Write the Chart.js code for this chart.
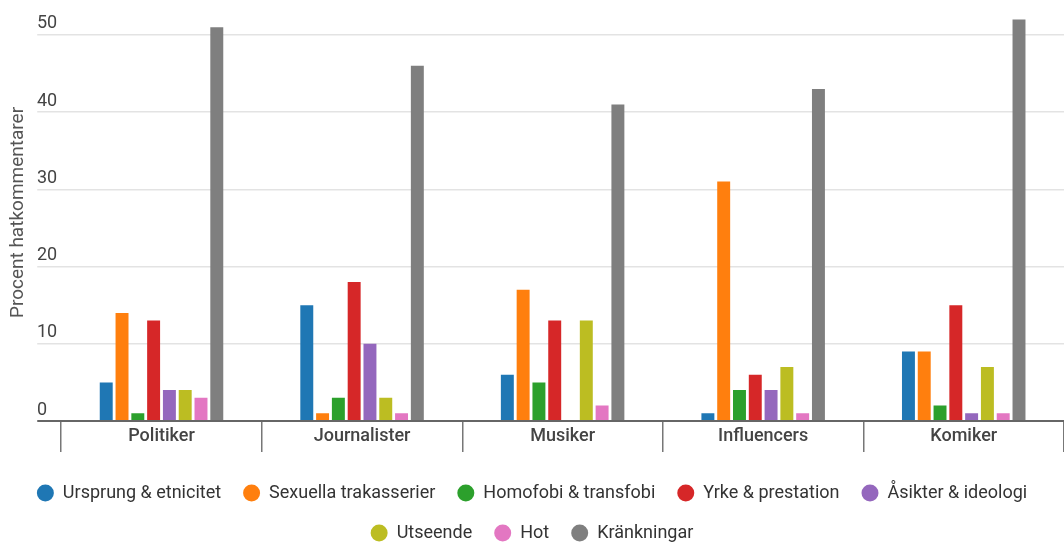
<!DOCTYPE html>
<html>
<head>
<meta charset="utf-8">
<script src="https://cdn.jsdelivr.net/npm/chart.js@4.4.1/dist/chart.umd.min.js"></script>
<style>
  html, body { margin: 0; padding: 0; background: #ffffff; }
  #wrap { width: 1064px; height: 543px; }
</style>
</head>
<body>
<div id="wrap"><canvas id="c" width="1064" height="543"></canvas></div>
<script>
const categories = ['Politiker', 'Journalister', 'Musiker', 'Influencers', 'Komiker'];
const seriesNames = ['Ursprung & etnicitet', 'Sexuella trakasserier', 'Homofobi & transfobi', 'Yrke & prestation', 'Åsikter & ideologi', 'Utseende', 'Hot', 'Kränkningar'];
const ursprung = [5, 15, 6, 1, 9];
const sexuella = [14, 1, 17, 31, 9];
const homofobi = [1, 3, 5, 4, 2];
const yrke = [13, 18, 13, 6, 15];
const asikter = [4, 10, 0, 4, 1];
const utseende = [4, 3, 13, 7, 7];
const hot = [3, 1, 2, 1, 1];
const krankningar = [51, 46, 41, 43, 52];
const yTicks = [0, 10, 20, 30, 40, 50];
const colors = ['#1f77b4', '#ff7f0e', '#2ca02c', '#d62728', '#9467bd', '#bcbd22', '#e377c2', '#7f7f7f'];

const seriesValues = [ursprung, sexuella, homofobi, yrke, asikter, utseende, hot, krankningar];

const datasets = seriesValues.map((vals, i) => ({
  label: seriesNames[i],
  data: vals,
  backgroundColor: colors[i],
  borderWidth: 0,
  categoryPercentage: 0.63,
  barPercentage: 0.82
}));

const chart = new Chart(document.getElementById('c'), {
  type: 'bar',
  data: { labels: categories, datasets },
  options: {
    responsive: false,
    animation: false,
    layout: { padding: { top: 4, right: 0, left: 0, bottom: -9 } },
    plugins: {
      tooltip: { enabled: false },
      legend: {
        position: 'bottom',
        labels: {
          usePointStyle: true,
          pointStyle: 'circle',
          boxWidth: 12,
          boxHeight: 12,
          pointStyleWidth: 17,
          padding: 22,
          color: '#333333',
          font: { family: 'Roboto', size: 18 }
        }
      }
    },
    scales: {
      x: {
        offset: true,
        border: { display: false },
        grid: {
          offset: true,
          drawOnChartArea: false,
          drawTicks: true,
          tickLength: 31,
          color: '#777777',
          lineWidth: 1.5
        },
        ticks: {
          padding: -26,
          color: '#444444',
          font: { family: 'Roboto', size: 18, weight: '500' }
        },
        title: {
          display: true,
          text: ' ',
          font: { family: 'Roboto', size: 10 },
          padding: { top: 0, bottom: 28.4 }
        }
      },
      y: {
        min: 0,
        max: 54,
        border: { display: false },
        afterBuildTicks: (scale) => {
          scale.ticks = yTicks.map(v => ({ value: v }));
        },
        grid: {
          drawTicks: true,
          tickLength: 24,
          color: (ctx) => ctx.tick && ctx.tick.value === 0 ? '#666666' : '#e3e3e3',
          tickColor: (ctx) => ctx.tick && ctx.tick.value === 0 ? '#666666' : '#e3e3e3',
          lineWidth: (ctx) => ctx.tick && ctx.tick.value === 0 ? 2 : 1.5
        },
        ticks: {
          padding: -20,
          labelOffset: -11,
          color: '#444444',
          font: { family: 'Roboto', size: 18 },
          callback: (v) => String(v).padEnd(2, '\u2007')
        },
        title: {
          display: true,
          text: 'Procent hatkommentarer',
          color: '#555555',
          font: { family: 'Roboto', size: 19 },
          padding: { top: 6.6, bottom: 27.6 }
        }
      }
    }
  }
});
</script>
</body>
</html>
